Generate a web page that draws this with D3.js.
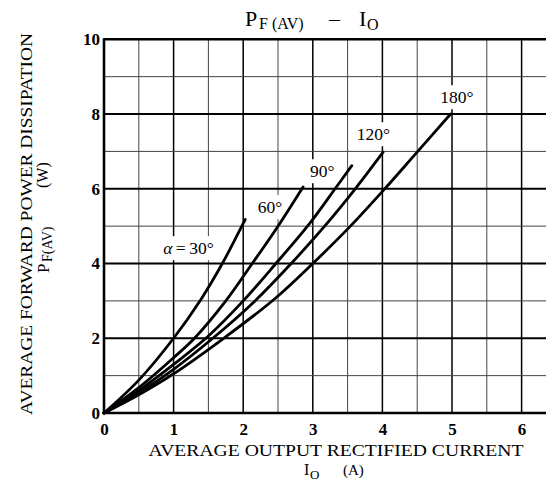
<!DOCTYPE html>
<html><head><meta charset="utf-8">
<script src="https://cdn.jsdelivr.net/npm/d3@7"></script>
<style>
html,body{margin:0;padding:0;background:#fff;overflow:hidden}
text{font-family:"Liberation Serif","Times New Roman",serif;fill:#000}
</style></head>
<body>
<svg id="chart" width="546" height="483"></svg>
<script>
// ---- data ----
const xTicks = [0,1,2,3,4,5,6];
const yTicks = [0,2,4,6,8,10];
const seriesNames = ["α=30°","60°","90°","120°","180°"];
const curve30  = [[0,0],[0.5,0.88],[1.0,2.0],[1.39,3.03],[1.7,4.0],[1.98,5.0],[2.03,5.18]];
const curve60  = [[0,0],[0.5,0.68],[1.0,1.48],[1.3,2.0],[1.75,3.0],[2.13,4.0],[2.5,5.0],[2.86,6.05]];
const curve90  = [[0,0],[0.5,0.6],[1.0,1.3],[1.5,2.06],[2.0,3.0],[2.47,4.0],[2.95,5.06],[3.32,6.0],[3.56,6.62]];
const curve120 = [[0,0],[0.5,0.54],[1.0,1.17],[1.55,1.98],[2.17,3.0],[2.68,3.98],[3.17,5.0],[3.61,6.0],[4.01,6.98]];
const curve180 = [[0,0],[0.5,0.49],[1.0,1.05],[1.72,2.0],[2.45,3.05],[3.0,4.0],[3.53,4.98],[4.01,5.95],[4.47,6.92],[4.98,8.0]];
const curves = [curve30,curve60,curve90,curve120,curve180];
// label anchors (data units)
const labelAnchors = [[0.85,4.25],[2.21,5.35],[2.96,6.31],[3.63,7.3],[4.83,8.29]];

// ---- chart ----
const svg = d3.select("#chart");
const x = d3.scaleLinear().domain([0,6.5]).range([104,556.4]);
const y = d3.scaleLinear().domain([0,10]).range([413,39.3]);

const g = svg.append("g");
const vGrid = d3.range(1,14).map(i=>i*0.5);
g.selectAll("line.v").data(vGrid).enter().append("line")
  .attr("x1",d=>x(d)).attr("x2",d=>x(d)).attr("y1",y(0)).attr("y2",y(10))
  .attr("stroke",d=>Number.isInteger(d)?"#000":"#444")
  .attr("stroke-width",d=>Number.isInteger(d)?1.5:1);
const hGrid = d3.range(1,10);
g.selectAll("line.h").data(hGrid).enter().append("line")
  .attr("x1",x(0)).attr("x2",x(6.5)).attr("y1",d=>y(d)).attr("y2",d=>y(d))
  .attr("stroke",d=>d%2===0?"#000":"#444")
  .attr("stroke-width",d=>d%2===0?2:1);

// frame
g.append("line").attr("x1",x(0)).attr("x2",x(0)).attr("y1",y(0)+1).attr("y2",y(10)-1).attr("stroke","#000").attr("stroke-width",2.6);
g.append("line").attr("x1",x(0)).attr("x2",x(6.5)).attr("y1",y(0)).attr("y2",y(0)).attr("stroke","#000").attr("stroke-width",2.6);
g.append("line").attr("x1",x(0)).attr("x2",x(6.5)).attr("y1",y(10)).attr("y2",y(10)).attr("stroke","#000").attr("stroke-width",2.4);

// label backgrounds + labels
const labG = svg.append("g");
seriesNames.forEach((name,i)=>{
  const t = labG.append("text")
    .attr("x",x(labelAnchors[i][0])).attr("y",y(labelAnchors[i][1]))
    .attr("font-size",17.5);
  if(i===0){
    t.append("tspan").attr("font-style","italic").text("α");
    t.append("tspan").text("\u2009=\u200930°");
  } else t.text(name);
  const bb = t.node().getBBox();
  labG.insert("rect","text").attr("x",bb.x-3).attr("y",bb.y-2).attr("width",bb.width+6).attr("height",bb.height+4).attr("fill","#fff");
});

// curves
const line = d3.line().x(d=>x(d[0])).y(d=>y(d[1])).curve(d3.curveCatmullRom.alpha(0.5));
svg.append("g").selectAll("path").data(curves).enter().append("path")
  .attr("d",line).attr("fill","none").attr("stroke","#000").attr("stroke-width",2.8)
  .attr("stroke-linecap","round");

// axes
const ax = svg.append("g").attr("transform",`translate(0,${y(0)})`)
  .call(d3.axisBottom(x).tickValues(xTicks).tickSize(0).tickPadding(10).tickFormat(d3.format("d")));
ax.select(".domain").remove();
ax.selectAll("text").attr("font-size",17).attr("font-weight","bold").style("font-family","Liberation Serif, serif");
const ay = svg.append("g").attr("transform",`translate(${x(0)},0)`)
  .call(d3.axisLeft(y).tickValues(yTicks).tickSize(0).tickPadding(4).tickFormat(d3.format("d")));
ay.select(".domain").remove();
ay.selectAll("text").attr("font-size",17).attr("font-weight","bold").style("font-family","Liberation Serif, serif");

// title
svg.append("text").attr("x",245).attr("y",26).attr("font-size",22).text("P");
svg.append("text").attr("x",259).attr("y",29).attr("font-size",16).text("F (AV)");
svg.append("text").attr("x",329).attr("y",26).attr("font-size",22).text("–");
svg.append("text").attr("x",359).attr("y",26).attr("font-size",22).text("I");
svg.append("text").attr("x",367).attr("y",30).attr("font-size",16).text("O");

// x title
svg.append("text").attr("x",336).attr("y",456).attr("text-anchor","middle")
  .attr("font-size",16.5).attr("textLength",375).attr("lengthAdjust","spacingAndGlyphs")
  .text("AVERAGE OUTPUT RECTIFIED CURRENT");
svg.append("text").attr("x",304).attr("y",475).attr("font-size",16).text("I");
svg.append("text").attr("x",310).attr("y",479).attr("font-size",13).text("O");
svg.append("text").attr("x",343).attr("y",475).attr("font-size",15).text("(A)");

// y title
svg.append("text").attr("transform","translate(32,224) rotate(-90)").attr("text-anchor","middle")
  .attr("font-size",17).attr("textLength",382).attr("lengthAdjust","spacingAndGlyphs")
  .text("AVERAGE FORWARD POWER DISSIPATION");
svg.append("text").attr("transform","translate(49,273) rotate(-90)").attr("font-size",17).text("P");
svg.append("text").attr("transform","translate(52,262) rotate(-90)").attr("font-size",14).text("F(AV)");
svg.append("text").attr("transform","translate(48,188) rotate(-90)").attr("font-size",16).text("(W)");
</script>
</body></html>
